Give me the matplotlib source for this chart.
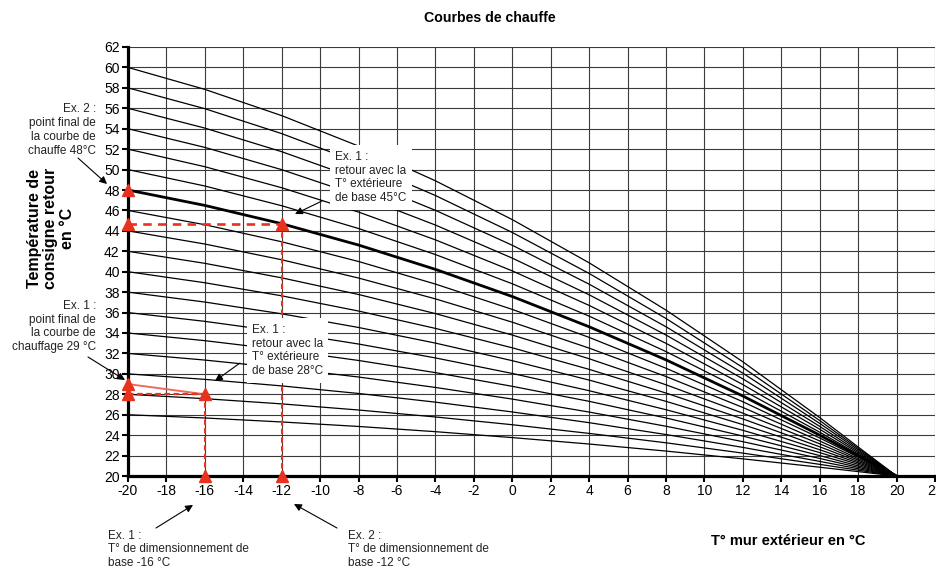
import matplotlib
matplotlib.use("Agg")
import matplotlib.pyplot as plt

plt.rcParams['font.family'] = ['Liberation Sans', 'DejaVu Sans']
plt.rcParams['axes.unicode_minus'] = False

# ---------------- data ----------------
outdoor_temp = [-20, -16, -12, -8, -4, 0, 4, 8, 12, 16, 18, 20]

curve_26 = [26, 25.68, 25.29, 24.85, 24.34, 23.76, 23.13, 22.44, 21.68, 20.86, 20.43, 20]
curve_28 = [28, 27.57, 27.06, 26.46, 25.78, 25.02, 24.17, 23.25, 22.24, 21.14, 20.57, 20]
curve_30 = [30, 29.46, 28.82, 28.08, 27.23, 26.27, 25.22, 24.06, 22.80, 21.43, 20.71, 20]
curve_32 = [32, 31.35, 30.58, 29.69, 28.67, 27.53, 26.26, 24.87, 23.36, 21.72, 20.85, 20]
curve_34 = [34, 33.25, 32.35, 31.31, 30.12, 28.78, 27.31, 25.68, 23.91, 22.00, 20.99, 20]
curve_36 = [36, 35.14, 34.11, 32.92, 31.56, 30.04, 28.35, 26.49, 24.47, 22.29, 21.14, 20]
curve_38 = [38, 37.03, 35.88, 34.54, 33.01, 31.29, 29.39, 27.31, 25.03, 22.57, 21.28, 20]
curve_40 = [40, 38.92, 37.64, 36.15, 34.45, 32.55, 30.44, 28.12, 25.59, 22.86, 21.42, 20]
curve_42 = [42, 40.82, 39.40, 37.77, 35.90, 33.80, 31.48, 28.93, 26.15, 23.15, 21.56, 20]
curve_44 = [44, 42.71, 41.17, 39.38, 37.34, 35.06, 32.52, 29.74, 26.71, 23.43, 21.70, 20]
curve_46 = [46, 44.60, 42.93, 41.00, 38.79, 36.31, 33.57, 30.55, 27.27, 23.72, 21.85, 20]
curve_48 = [48, 46.49, 44.70, 42.61, 40.23, 37.57, 34.61, 31.37, 27.83, 24.00, 21.99, 20]
curve_50 = [50, 48.39, 46.46, 44.23, 41.68, 38.82, 35.65, 32.18, 28.39, 24.29, 22.13, 20]
curve_52 = [52, 50.28, 48.22, 45.84, 43.12, 40.08, 36.70, 32.99, 28.95, 24.58, 22.27, 20]
curve_54 = [54, 52.17, 49.99, 47.46, 44.57, 41.33, 37.74, 33.80, 29.51, 24.86, 22.41, 20]
curve_56 = [56, 54.06, 51.75, 49.07, 46.01, 42.59, 38.78, 34.61, 30.07, 25.15, 22.56, 20]
curve_58 = [58, 55.96, 53.52, 50.69, 47.46, 43.84, 39.83, 35.42, 30.62, 25.43, 22.70, 20]
curve_60 = [60, 57.85, 55.28, 52.30, 48.90, 45.10, 40.87, 36.24, 31.18, 25.72, 22.84, 20]

thin_curves = [curve_26, curve_28, curve_30, curve_32, curve_34, curve_36, curve_38,
               curve_40, curve_42, curve_44, curve_46, curve_50, curve_52, curve_54,
               curve_56, curve_58, curve_60]
bold_curve = curve_48

# example constructions (red)
ex2_x = [-20, -20, -12, -12]
ex2_y = [48, 44.7, 44.7, 20]
ex1_x = [-20, -20, -16, -16]
ex1_y = [29, 28, 28, 20]

x_ticks = list(range(-20, 23, 2))
y_ticks = list(range(20, 63, 2))

title = "Courbes de chauffe"
x_label = "T° mur extérieur en °C"
y_label = "Température de\nconsigne retour\nen °C"

# ---------------- figure ----------------
W, H = 936, 568
fig = plt.figure(figsize=(W / 100, H / 100), dpi=100)
ax = fig.add_axes([128 / W, 92 / H, 807 / W, 429 / H])
ax.set_xlim(-20, 22)
ax.set_ylim(20, 62)

ax.set_xticks(x_ticks)
ax.set_yticks(y_ticks)
ax.grid(True, color='#3a3a3a', lw=0.8)
ax.set_axisbelow(True)
for s in ['top', 'right']:
    ax.spines[s].set_visible(False)
for s in ['left', 'bottom']:
    ax.spines[s].set_linewidth(2.3)
    ax.spines[s].set_zorder(5)
ax.tick_params(axis='both', direction='out', length=4, width=1.5, labelsize=10,
               pad=2, colors='black')

for c in thin_curves:
    ax.plot(outdoor_temp, c, color='black', lw=0.9, zorder=3)
ax.plot(outdoor_temp, bold_curve, color='black', lw=2.0, zorder=3)

red = '#e8321e'
# Example 2
ax.plot(ex2_x[1:3], ex2_y[1:3], color=red, lw=1.9, linestyle=(0, (3.2, 2.4)), zorder=4)
ax.plot(ex2_x[2:4], ex2_y[2:4], color=red, lw=1.5, linestyle=(0, (2.5, 1.6)), zorder=4)
# Example 1
ax.plot(ex1_x[0:3:2], [ex1_y[0], ex1_y[2]], color='#f06a58', lw=1.4, zorder=4)
ax.plot(ex1_x[1:3], ex1_y[1:3], color=red, lw=1.6, linestyle=(0, (2.5, 1.6)), zorder=4)
ax.plot(ex1_x[2:4], ex1_y[2:4], color=red, lw=1.5, linestyle=(0, (2.5, 1.6)), zorder=4)
ax.plot(ex2_x, ex2_y, linestyle='none', marker='^', color=red, ms=8, clip_on=False, zorder=6)
ax.plot(ex1_x, ex1_y, linestyle='none', marker='^', color=red, ms=8, clip_on=False, zorder=6)

# ---------------- texts ----------------
def fx(px):
    return px / W

def fy(py):
    return 1 - py / H

fig.text(fx(490), fy(18), title, ha='center', va='center', fontsize=10.2, fontweight='bold')
fig.text(fx(788), fy(541), x_label, ha='center', va='center', fontsize=10.5, fontweight='bold')
fig.text(fx(51), fy(228), y_label, ha='center', va='center', rotation=90, fontsize=11.5,
         fontweight='bold', linespacing=1.1, multialignment='center')

tcol = '#222222'
afs = 8.5

def note(px, py, txt, ha='left', box=False):
    kw = dict(ha=ha, va='center', fontsize=afs, color=tcol, linespacing=1.22,
              multialignment=ha)
    if box:
        kw['bbox'] = dict(boxstyle='square,pad=0.45', facecolor='white', edgecolor='none')
    fig.text(fx(px), fy(py), txt, **kw)

def arrow(x0, y0, x1, y1):
    ax.annotate('', xy=(x1, H - y1), xycoords='figure pixels',
                xytext=(x0, H - y0), textcoords='figure pixels',
                arrowprops=dict(arrowstyle='-|>', color='black', lw=0.8,
                                mutation_scale=11, shrinkA=0, shrinkB=0),
                annotation_clip=False, zorder=7)

note(96, 130, "Ex. 2 :\npoint final de\nla courbe de\nchauffe 48°C", ha='right')
arrow(78, 158, 107, 184)

note(335, 177.5, "Ex. 1 :\nretour avec la\nT° extérieure\nde base 45°C", box=True)
arrow(322, 201, 295, 214)

note(96, 326.5, "Ex. 1 :\npoint final de\nla courbe de\nchauffage 29 °C", ha='right')
arrow(88, 357, 125, 380)

note(252, 350.5, "Ex. 1 :\nretour avec la\nT° extérieure\nde base 28°C", box=True)
arrow(240, 363, 215, 381)

note(108, 549.5, "Ex. 1 :\nT° de dimensionnement de\nbase -16 °C")
arrow(156, 528, 193, 505)

note(348, 549.5, "Ex. 2 :\nT° de dimensionnement de\nbase -12 °C")
arrow(337, 528, 294, 504)

fig.savefig('out.png', dpi=100)
